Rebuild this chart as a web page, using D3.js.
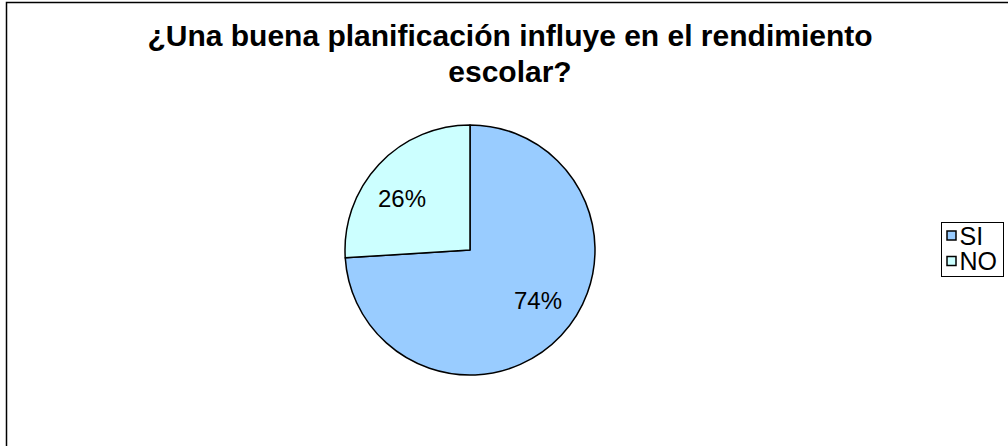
<!DOCTYPE html>
<html><head><meta charset="utf-8">
<script src="https://cdn.jsdelivr.net/npm/d3@7"></script>
<style>body{margin:0;background:#fff}svg{display:block}</style>
</head><body>
<svg id="c" width="1008" height="446"></svg>
<script>
const categories = ["SI", "NO"];
const values = [74, 26];
const labels = ["74%", "26%"];
const colors = ["#99CCFF", "#CCFFFF"];
const titleLines = ["¿Una buena planificación influye en el rendimiento", "escolar?"];

const svg = d3.select("#c");
const font = "'Liberation Sans', Arial, sans-serif";

// chart border
svg.append("rect").attr("x", 6.5).attr("y", 2.5).attr("width", 1100).attr("height", 600)
  .attr("fill", "#fff").attr("stroke", "#000").attr("stroke-width", 1.5);

// title
svg.append("g").selectAll("text").data(titleLines).join("text")
  .attr("x", 510).attr("y", (d, i) => 46 + i * 36)
  .attr("text-anchor", "middle").attr("font-family", font)
  .attr("font-weight", "bold").attr("font-size", 30).attr("fill", "#000")
  .text(d => d);

// pie
const cx = 470, cy = 250, r = 125;
const pie = d3.pie().sort(null).value(d => d)(values);
const arc = d3.arc().innerRadius(0).outerRadius(r);
const g = svg.append("g").attr("transform", `translate(${cx},${cy})`);
g.selectAll("path").data(pie).join("path")
  .attr("d", arc).attr("fill", (d, i) => colors[i])
  .attr("stroke", "#000").attr("stroke-width", 1.5).attr("stroke-linejoin", "round");

const labelArc = d3.arc().innerRadius(r * 0.68).outerRadius(r * 0.68);
const shift = -0.11;
g.selectAll("text").data(pie).join("text")
  .attr("transform", d => `translate(${labelArc.centroid({startAngle: d.startAngle + shift, endAngle: d.endAngle + shift})})`)
  .attr("text-anchor", "middle").attr("dy", "0.35em")
  .attr("font-family", font).attr("font-size", 24).attr("fill", "#000")
  .text((d, i) => labels[i]);

// legend
const lg = svg.append("g");
lg.append("rect").attr("x", 941.5).attr("y", 222.5).attr("width", 62).attr("height", 54)
  .attr("fill", "#fff").attr("stroke", "#000").attr("stroke-width", 1);
const items = lg.selectAll("g").data(categories).join("g")
  .attr("transform", (d, i) => `translate(0,${i * 25.5})`);
items.append("rect").attr("x", 947).attr("y", 231).attr("width", 9).attr("height", 9)
  .attr("fill", (d, i) => colors[i]).attr("stroke", "#000").attr("stroke-width", 1.5);
items.append("text").attr("x", 959.5).attr("y", 244.5)
  .attr("font-family", font).attr("font-size", 25).attr("fill", "#000").text(d => d);
</script>
</body></html>
